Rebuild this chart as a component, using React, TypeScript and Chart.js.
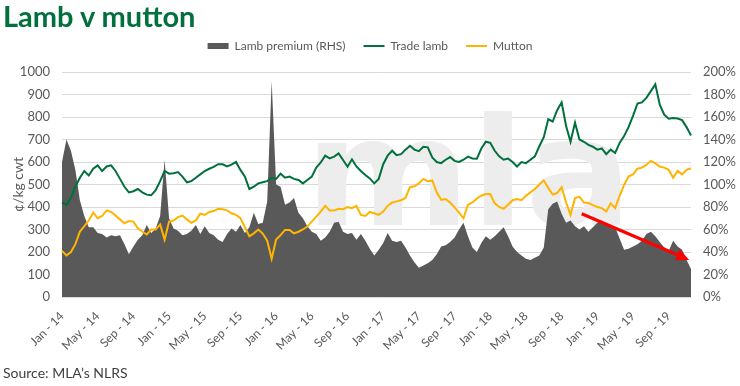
import React, { useEffect, useRef } from 'react';
import { Chart, registerables } from 'chart.js';

Chart.register(...registerables);

// Half-month periods from Jan 2014 to Nov 2019
const monthNames = ['Jan', 'Feb', 'Mar', 'Apr', 'May', 'Jun', 'Jul', 'Aug', 'Sep', 'Oct', 'Nov', 'Dec'];
const yearNames = ['14', '15', '16', '17', '18', '19'];
const periods: string[] = [];
yearNames.forEach((y) => monthNames.forEach((m) => { periods.push(`${m} - ${y}`); periods.push(`${m} - ${y}`); }));
const categories = periods.slice(0, 142);

const tickLabels = [
  'Jan - 14', 'May - 14', 'Sep - 14', 'Jan - 15', 'May - 15', 'Sep - 15',
  'Jan - 16', 'May - 16', 'Sep - 16', 'Jan - 17', 'May - 17', 'Sep - 17',
  'Jan - 18', 'May - 18', 'Sep - 18', 'Jan - 19', 'May - 19', 'Sep - 19',
];

// Trade lamb, c/kg cwt
const tradeLamb = [
  420, 410, 440, 490, 530, 560, 540, 570, 585, 560, 580, 585, 560, 525, 490, 465, 470, 480, 465, 455, 452, 475, 515, 560, 548, 550, 555, 535, 510, 515, 530, 545, 560, 570, 578, 590,
  590, 580, 588, 600, 565, 535, 480, 490, 505, 510, 515, 530, 525, 548, 530, 535, 525, 520, 505, 520, 535, 575, 598, 628, 616, 624, 638, 609, 579, 612, 580, 560, 542,
  527, 505, 525, 590, 628, 650, 630, 635, 655, 672, 655, 648, 668, 665, 620, 600, 595, 610, 622, 605, 600, 610, 624, 616, 615, 660, 690, 685, 650, 625, 610, 615, 600, 580, 600, 595,
  610, 625, 670, 710, 790, 780, 830, 865, 760, 690, 775, 700, 690, 676, 668, 655, 660, 635, 655, 640, 685, 715, 755, 805, 860, 865, 885, 915, 945, 855, 810, 792, 795, 793, 786, 755, 718,
];

// Mutton, c/kg cwt
const mutton = [
  205, 185, 200, 235, 290, 315, 340, 375, 350, 360, 385, 378, 362, 345, 328, 338, 335, 305, 290, 278, 300, 300, 322, 255, 335, 340, 355, 362, 345, 330, 340, 370, 365, 378, 382, 392,
  390, 385, 372, 365, 350, 310, 270, 283, 300, 282, 250, 170, 255, 275, 298, 298, 283, 290, 300, 313, 335, 357, 379, 405, 385, 385, 392, 390, 400, 395, 405, 365, 360, 378, 372,
  365, 380, 405, 420, 425, 430, 440, 488, 492, 505, 525, 515, 518, 465, 432, 435, 420, 398, 375, 350, 410, 420, 438, 450, 458, 458, 416, 400, 392, 410, 430, 435, 430, 450, 465,
  480, 500, 518, 485, 455, 462, 488, 420, 365, 440, 445, 420, 418, 408, 400, 395, 380, 416, 395, 450, 498, 535, 545, 570, 575, 587, 605, 594, 580, 575, 565, 530, 560, 545, 565, 572,
];

// Lamb premium over mutton, % (right-hand scale)
const lambPremium = [
  120, 140, 130, 113, 86, 72, 62, 62, 57, 56, 53, 55, 54, 55, 47, 38, 45, 51, 55, 64, 57, 61, 72, 122, 70, 61, 59, 55, 56, 59, 64, 56, 63, 57, 55, 51,
  49, 56, 61, 58, 64, 57, 62, 75, 65, 66, 85, 192, 100, 98, 82, 84, 88, 75, 70, 63, 58, 56, 50, 53, 58, 66, 67, 58, 56, 57, 51, 56, 50, 43, 37,
  42, 48, 57, 50, 49, 50, 44, 37, 31, 26, 28, 30, 33, 38, 45, 46, 49, 53, 60, 66, 54, 44, 40, 48, 54, 51, 54, 58, 62, 54, 45, 40, 37, 34, 33,
  35, 37, 44, 78, 83, 85, 74, 66, 68, 63, 60, 63, 58, 62, 66, 68, 65, 63, 62, 52, 42, 43, 45, 47, 50, 56, 58, 54, 49, 44, 41, 50, 45, 42, 33, 25,
];

// Trend arrow: [period index, premium %]
const arrowFrom = [116.5, 74];
const arrowTo = [140.6, 33];

// Background watermark text
const watermarkText = 'mla';

const FONT = 'Lato, "Open Sans", "DejaVu Sans", sans-serif';
const AXIS_COLOR = '#595959';

const watermarkPlugin = {
  id: 'watermark',
  beforeDatasetsDraw(chart: any) {
    const { ctx, chartArea } = chart;
    ctx.save();
    ctx.beginPath();
    ctx.rect(chartArea.left, chartArea.top, chartArea.right - chartArea.left, chartArea.bottom - chartArea.top);
    ctx.clip();
    ctx.fillStyle = '#EDEDED';
    ctx.font = 'bold 150px "DejaVu Sans", sans-serif';
    ctx.textAlign = 'left';
    ctx.textBaseline = 'alphabetic';
    ctx.translate(chartArea.left + 243, chartArea.top + 153);
    ctx.scale(1.06, 1);
    ctx.fillText(watermarkText, 0, 0);
    ctx.restore();
  },
};

const arrowPlugin = {
  id: 'trendArrow',
  afterDatasetsDraw(chart: any) {
    const xs = chart.scales.x;
    const ys = chart.scales.y1;
    const x1 = xs.getPixelForValue(arrowFrom[0]);
    const y1 = ys.getPixelForValue(arrowFrom[1]);
    const x2 = xs.getPixelForValue(arrowTo[0]);
    const y2 = ys.getPixelForValue(arrowTo[1]);
    const ctx = chart.ctx;
    const ang = Math.atan2(y2 - y1, x2 - x1);
    const headLen = 13;
    const headW = 6;
    const bx = x2 - headLen * Math.cos(ang);
    const by = y2 - headLen * Math.sin(ang);
    ctx.save();
    ctx.strokeStyle = '#FF0000';
    ctx.lineWidth = 3;
    ctx.beginPath();
    ctx.moveTo(x1, y1);
    ctx.lineTo(bx, by);
    ctx.stroke();
    ctx.fillStyle = '#FF0000';
    ctx.beginPath();
    ctx.moveTo(x2, y2);
    ctx.lineTo(bx + headW * Math.sin(ang), by - headW * Math.cos(ang));
    ctx.lineTo(bx - headW * Math.sin(ang), by + headW * Math.cos(ang));
    ctx.closePath();
    ctx.fill();
    ctx.restore();
  },
};

export default function App() {
  const canvasRef = useRef<HTMLCanvasElement | null>(null);

  useEffect(() => {
    if (!canvasRef.current) return;
    const chart = new Chart(canvasRef.current, {
      type: 'line',
      data: {
        labels: categories,
        datasets: [
          {
            label: 'Lamb premium (RHS)',
            data: lambPremium,
            yAxisID: 'y1',
            fill: 'origin',
            backgroundColor: '#595959',
            borderColor: '#595959',
            borderWidth: 0,
            pointRadius: 0,
            pointStyle: 'rect',
            tension: 0,
            order: 3,
          },
          {
            label: 'Trade lamb',
            data: tradeLamb,
            yAxisID: 'y',
            fill: false,
            borderColor: '#00703C',
            backgroundColor: '#00703C',
            borderWidth: 2,
            pointRadius: 0,
            pointStyle: 'line',
            tension: 0,
            order: 1,
          },
          {
            label: 'Mutton',
            data: mutton,
            yAxisID: 'y',
            fill: false,
            borderColor: '#FFB400',
            backgroundColor: '#FFB400',
            borderWidth: 2,
            pointRadius: 0,
            pointStyle: 'line',
            tension: 0,
            order: 2,
          },
        ],
      },
      options: {
        responsive: false,
        maintainAspectRatio: false,
        animation: false,
        events: [],
        layout: { padding: { top: 22, left: 0, right: 0, bottom: 0 } },
        font: { family: FONT },
        plugins: {
          tooltip: { enabled: false },
          legend: {
            display: true,
            position: 'top',
            labels: {
              usePointStyle: true,
              pointStyleWidth: 21,
              boxHeight: 6,
              padding: 18,
              color: AXIS_COLOR,
              font: { family: FONT, size: 12 },
              sort: (a: any, b: any) => a.datasetIndex - b.datasetIndex,
            },
          },
          subtitle: {
            display: true,
            text: ' ',
            position: 'top',
            weight: 500,
            font: { size: 1, lineHeight: 1 },
            padding: { top: 9, bottom: 0 },
          } as any,
        },
        scales: {
          x: {
            type: 'category',
            offset: false,
            grid: { display: false, drawTicks: false },
            border: { display: false },
            ticks: {
              autoSkip: false,
              minRotation: 45,
              maxRotation: 45,
              padding: 12,
              color: AXIS_COLOR,
              font: { family: FONT, size: 12 },
              callback: (_v: any, index: number) => (index % 8 === 0 ? tickLabels[index / 8] : ''),
            },
            afterFit: (scale: any) => { scale.height = 89; },
          },
          y: {
            type: 'linear',
            position: 'left',
            min: 0,
            max: 1000,
            grid: { color: '#D9D9D9', lineWidth: 1, drawTicks: false },
            border: { display: false },
            ticks: {
              stepSize: 100,
              padding: 12,
              color: AXIS_COLOR,
              font: { family: FONT, size: 13 },
              callback: (v: any) => String(v),
            },
            title: {
              display: true,
              text: '¢/kg cwt',
              color: AXIS_COLOR,
              font: { family: FONT, size: 14 },
              padding: { top: 10, bottom: 0 },
            },
            afterFit: (scale: any) => { scale.width = 62; },
          },
          y1: {
            type: 'linear',
            position: 'right',
            min: 0,
            max: 200,
            grid: { display: false, drawTicks: false },
            border: { display: false },
            ticks: {
              stepSize: 20,
              padding: 12,
              color: AXIS_COLOR,
              font: { family: FONT, size: 13 },
              callback: (v: any) => `${v}%`,
            },
            afterFit: (scale: any) => { scale.width = 49; },
          },
        },
      },
      plugins: [watermarkPlugin, arrowPlugin],
    } as any);
    return () => chart.destroy();
  }, []);

  return (
    <div style={{ position: 'absolute', left: 0, top: 0, width: 740, height: 386, background: '#FFFFFF', overflow: 'hidden' }}>
      <canvas ref={canvasRef} width={740} height={386} style={{ position: 'absolute', left: 0, top: 0, width: 740, height: 386 }} />
      <div style={{ position: 'absolute', left: 3, top: -2, fontFamily: FONT, fontWeight: 700, fontSize: 29, color: '#00703C', whiteSpace: 'nowrap' }}>
        Lamb v mutton
      </div>
      <div style={{ position: 'absolute', left: 3, top: 364, fontFamily: FONT, fontSize: 14, color: '#404040', whiteSpace: 'nowrap' }}>
        Source: MLA’s NLRS
      </div>
    </div>
  );
}
